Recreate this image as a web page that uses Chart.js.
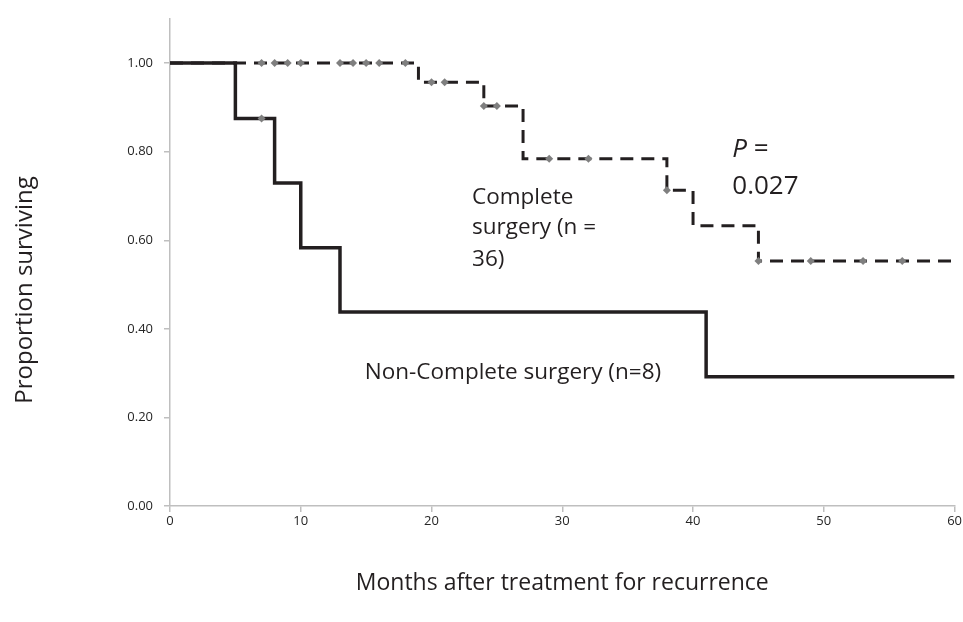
<!DOCTYPE html>
<html>
<head>
<meta charset="utf-8">
<script src="https://cdn.jsdelivr.net/npm/chart.js@4.4.1/dist/chart.umd.min.js"></script>
<style>
    body { margin: 0; background: #ffffff; }
    #wrap { width: 963px; height: 622px; }
</style>
</head>
<body>
<div id="wrap"><canvas id="kmChart" width="963" height="622"></canvas></div>
<script>
// Kaplan-Meier steps (month, proportion surviving)
const completeMonths = [0, 19, 24, 27, 38, 40, 45, 60];
const completeSurv = [1.00, 0.957, 0.903, 0.784, 0.713, 0.633, 0.553, 0.553];
const completeCensorMonths = [7, 8, 9, 10, 13, 14, 15, 16, 18, 20, 21, 24, 25, 29, 32, 38, 45, 49, 53, 56];
const completeCensorSurv = [1, 1, 1, 1, 1, 1, 1, 1, 1, 0.957, 0.957, 0.903, 0.903, 0.784, 0.784, 0.713, 0.553, 0.553, 0.553, 0.553];

const nonCompleteMonths = [0, 5, 8, 10, 13, 41, 60];
const nonCompleteSurv = [1.00, 0.875, 0.729, 0.583, 0.438, 0.292, 0.292];
const nonCompleteCensorMonths = [7];
const nonCompleteCensorSurv = [0.875];

const xTicks = [0, 10, 20, 30, 40, 50, 60];
const yTicks = [0, 0.2, 0.4, 0.6, 0.8, 1.0];

const xTitle = "Months after treatment for recurrence";
const yTitle = "Proportion surviving";

const lineColor = '#231f20';
const censorColor = '#7f7f7f';
const axisColor = '#bfbfbf';

function toPoints(xs, ys) {
    return xs.map((x, i) => ({ x: x, y: ys[i] }));
}

// Text labels drawn on the chart: [text, month, proportion, font]
const notes = [
    ["Complete", 23.1, 0.682, "22.5px 'Open Sans'"],
    ["surgery (n =", 23.1, 0.613, "22.5px 'Open Sans'"],
    ["36)", 23.1, 0.543, "22.5px 'Open Sans'"],
    ["Non-Complete surgery (n=8)", 14.9, 0.286, "22.5px 'Open Sans'"],
    ["0.027", 43.0, 0.705, "26px 'Open Sans'"]
];

const textPlugin = {
    id: 'textPlugin',
    afterDraw(chart) {
        const ctx = chart.ctx;
        const xs = chart.scales.x;
        const ys = chart.scales.y;
        ctx.save();
        ctx.fillStyle = lineColor;
        ctx.textBaseline = 'alphabetic';
        ctx.textAlign = 'left';
        notes.forEach(n => {
            ctx.font = n[3];
            ctx.fillText(n[0], xs.getPixelForValue(n[1]), ys.getPixelForValue(n[2]));
        });

        // "P =" with italic P
        const px = xs.getPixelForValue(43.0);
        const py = ys.getPixelForValue(0.787);
        ctx.font = "italic 26px 'Open Sans'";
        ctx.fillText("P", px, py);
        const pw = ctx.measureText("P ").width;
        ctx.font = "26px 'Open Sans'";
        ctx.fillText("=", px + pw, py);

        // axis titles
        ctx.textAlign = 'center';
        ctx.textBaseline = 'middle';
        ctx.font = "23px 'Open Sans'";
        ctx.fillText(xTitle, (chart.chartArea.left + chart.chartArea.right) / 2, 583);
        ctx.font = "24px 'Open Sans'";
        ctx.translate(25, 290);
        ctx.rotate(-Math.PI / 2);
        ctx.fillText(yTitle, 0, 0);
        ctx.restore();
    }
};

const ctx = document.getElementById('kmChart').getContext('2d');
new Chart(ctx, {
    type: 'line',
    data: {
        datasets: [
            {
                label: 'Non-Complete censored',
                data: toPoints(nonCompleteCensorMonths, nonCompleteCensorSurv),
                showLine: false,
                pointStyle: 'rectRot',
                pointRadius: 4,
                pointBackgroundColor: censorColor,
                pointBorderColor: censorColor,
                pointBorderWidth: 0,
                order: 0
            },
            {
                label: 'Complete censored',
                data: toPoints(completeCensorMonths, completeCensorSurv),
                showLine: false,
                pointStyle: 'rectRot',
                pointRadius: 4,
                pointBackgroundColor: censorColor,
                pointBorderColor: censorColor,
                pointBorderWidth: 0,
                order: 1
            },
            {
                label: 'Non-Complete surgery (n=8)',
                data: toPoints(nonCompleteMonths, nonCompleteSurv),
                stepped: 'before',
                borderColor: lineColor,
                borderWidth: 3.5,
                pointRadius: 0,
                fill: false,
                order: 2
            },
            {
                label: 'Complete surgery (n = 36)',
                data: toPoints(completeMonths, completeSurv),
                stepped: 'before',
                borderColor: lineColor,
                borderWidth: 3,
                borderDash: [13, 8],
                pointRadius: 0,
                fill: false,
                order: 3
            }
        ]
    },
    options: {
        responsive: false,
        animation: false,
        layout: { padding: { left: 0, right: 6, top: 12, bottom: 0 } },
        plugins: {
            legend: { display: false },
            tooltip: { enabled: false }
        },
        scales: {
            x: {
                type: 'linear',
                min: 0,
                max: 60,
                afterFit: scale => { scale.height = 116; },
                afterBuildTicks: scale => { scale.ticks = xTicks.map(v => ({ value: v })); },
                grid: { drawOnChartArea: false, drawTicks: true, tickLength: 6, color: axisColor, lineWidth: 1.5 },
                border: { color: axisColor, width: 1.5 },
                ticks: {
                    padding: 1,
                    color: '#262626',
                    font: { family: 'Open Sans', size: 13 },
                    maxRotation: 0
                }
            },
            y: {
                min: 0,
                max: 1.1,
                afterFit: scale => { scale.width = 170; },
                afterBuildTicks: scale => { scale.ticks = yTicks.map(v => ({ value: v })); },
                grid: { drawOnChartArea: false, drawTicks: true, tickLength: 6, color: axisColor, lineWidth: 1.5 },
                border: { color: axisColor, width: 1.5 },
                ticks: {
                    padding: 11,
                    color: '#262626',
                    font: { family: 'Open Sans', size: 13 },
                    callback: v => v.toFixed(2)
                }
            }
        }
    },
    plugins: [textPlugin]
});
</script>
</body>
</html>
